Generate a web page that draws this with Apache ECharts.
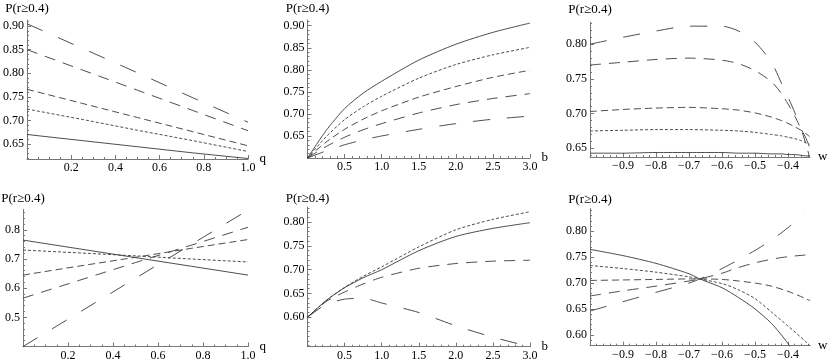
<!DOCTYPE html>
<html><head><meta charset="utf-8">
<script src="https://cdn.jsdelivr.net/npm/echarts@6/dist/echarts.min.js"></script>
<style>html,body{margin:0;padding:0;background:#fff}#c{width:830px;height:363px}</style>
</head><body><div id="c"></div>
<script>
// ---------------- DATA ----------------
const yTitle = 'P(r≥0.4)';

// Panel 1 (top-left): x = q
const p1X  = [0, 0.25, 0.5, 0.75, 1.0];
const p1S1 = [0.670, 0.657, 0.644, 0.631, 0.619];
const p1S2 = [0.724, 0.702, 0.679, 0.657, 0.634];
const p1S3 = [0.766, 0.736, 0.706, 0.676, 0.646];
const p1S4 = [0.850, 0.807, 0.764, 0.721, 0.678];
const p1S5 = [0.905, 0.853, 0.801, 0.748, 0.696];
const p1XTicks = [0.2, 0.4, 0.6, 0.8, 1.0];
const p1YTicks = [0.65, 0.70, 0.75, 0.80, 0.85, 0.90];

// Panel 2 (top-middle): x = b
const p2X  = [0, 0.25, 0.5, 0.75, 1.0, 1.5, 2.0, 2.5, 3.0];
const p2S1 = [0.600, 0.662, 0.712, 0.747, 0.774, 0.822, 0.858, 0.885, 0.906];
const p2S2 = [0.600, 0.648, 0.687, 0.716, 0.740, 0.781, 0.812, 0.834, 0.851];
const p2S3 = [0.600, 0.636, 0.665, 0.688, 0.707, 0.738, 0.762, 0.783, 0.799];
const p2S4 = [0.600, 0.626, 0.647, 0.664, 0.678, 0.702, 0.721, 0.735, 0.746];
const p2S5 = [0.600, 0.616, 0.630, 0.641, 0.650, 0.665, 0.678, 0.688, 0.695];
const p2XTicks = [0.5, 1.0, 1.5, 2.0, 2.5, 3.0];
const p2YTicks = [0.65, 0.70, 0.75, 0.80, 0.85, 0.90];

// Panel 3 (top-right): x = w
const p3X  = [-1, -0.9, -0.8, -0.7, -0.6, -0.55, -0.5, -0.45, -0.42, -0.4, -0.38, -0.36, -0.345, -0.335];
const p3S1 = [0.643, 0.643, 0.644, 0.644, 0.644, 0.643, 0.643, 0.642, 0.642, 0.641, 0.641, 0.640, 0.639, 0.639];
const p3S2 = [0.675, 0.676, 0.677, 0.677, 0.676, 0.675, 0.673, 0.670, 0.668, 0.666, 0.664, 0.661, 0.658, 0.656];
const p3S3 = [0.703, 0.706, 0.708, 0.709, 0.707, 0.705, 0.701, 0.695, 0.690, 0.686, 0.681, 0.676, 0.671, 0.667];
const p3S4 = [0.770, 0.774, 0.778, 0.780, 0.777, 0.772, 0.762, 0.746, 0.729, 0.714, 0.697, 0.677, 0.655, 0.638];
const p3S5 = [0.800, 0.810, 0.819, 0.826, 0.826, 0.819, 0.803, 0.774, 0.744, 0.724, 0.702, 0.678, 0.664, 0.652];
const p3XTicks = [-0.9, -0.8, -0.7, -0.6, -0.5, -0.4];
const p3YTicks = [0.65, 0.70, 0.75, 0.80];

// Panel 4 (bottom-left): x = q
const p4X  = [0, 0.25, 0.5, 0.75, 1.0];
const p4S1 = [0.765, 0.735, 0.705, 0.675, 0.645];
const p4S2 = [0.731, 0.721, 0.711, 0.700, 0.690];
const p4S3 = [0.645, 0.676, 0.706, 0.737, 0.767];
const p4S4 = [0.566, 0.627, 0.688, 0.748, 0.809];
const p4S5 = [0.400, 0.517, 0.634, 0.751, 0.868];
const p4XTicks = [0.2, 0.4, 0.6, 0.8, 1.0];
const p4YTicks = [0.5, 0.6, 0.7, 0.8];

// Panel 5 (bottom-middle): x = b
const p5X  = [0, 0.25, 0.5, 0.75, 1.0, 1.5, 2.0, 2.5, 3.0];
const p5S1 = [0.600, 0.635, 0.662, 0.683, 0.700, 0.740, 0.770, 0.787, 0.799];
const p5S2 = [0.600, 0.635, 0.663, 0.686, 0.706, 0.748, 0.784, 0.806, 0.822];
const p5S4 = [0.600, 0.633, 0.653, 0.670, 0.684, 0.703, 0.713, 0.718, 0.720];
const p5S5 = [0.600, 0.627, 0.638, 0.640, 0.630, 0.610, 0.582, 0.558, 0.538];
const p5XTicks = [0.5, 1.0, 1.5, 2.0, 2.5, 3.0];
const p5YTicks = [0.60, 0.65, 0.70, 0.75, 0.80];

// Panel 6 (bottom-right): x = w
const p6X  = [-1, -0.9, -0.8, -0.7, -0.667, -0.6, -0.55, -0.5, -0.45, -0.4, -0.35, -0.333];
const p6S1 = [0.765, 0.753, 0.738, 0.718, 0.708, 0.691, 0.672, 0.650, 0.622, 0.583, 0.530, 0.510];
const p6S2 = [0.734, 0.728, 0.721, 0.712, 0.708, 0.699, 0.687, 0.670, 0.644, 0.617, 0.589, 0.578];
const p6S3 = [0.705, 0.706, 0.707, 0.708, 0.708, 0.707, 0.704, 0.700, 0.694, 0.684, 0.671, 0.666];
const p6S4 = [0.675, 0.685, 0.694, 0.704, 0.708, 0.719, 0.730, 0.739, 0.746, 0.751, 0.754, 0.755];
const p6S5 = [0.646, 0.664, 0.682, 0.700, 0.708, 0.728, 0.745, 0.763, 0.783, 0.807, 0.834, null];
const p6XTicks = [-0.9, -0.8, -0.7, -0.6, -0.5, -0.4];
const p6YTicks = [0.60, 0.65, 0.70, 0.75, 0.80];

// ---------------- STYLE / LAYOUT ----------------
const FONT = 'Liberation Serif';
const AX = '#777';
const LINE = '#3a3a3a';
const dashes = { S1: 'solid', S2: [3, 2], S3: [7, 4], S4: [11, 8], S5: [17, 17] };

function rng(a, b, step) {
  const out = [];
  const n = Math.round((b - a) / step);
  for (let i = 0; i <= n; i++) out.push(+(a + i * step).toFixed(4));
  return out;
}
const fmt = d => v => v.toFixed(d).replace('-', '\u2212');

const panels = [
  { rect: [23, 20, 225, 139], x: [0, 1], y: [0.618, 0.913], xt: p1XTicks, xm: rng(0, 1, 0.05), yt: p1YTicks, ym: rng(0.62, 0.91, 0.01),
    xd: 1, yd: 2, name: 'q', nameGapX: 6, nameGapY: 5, smooth: false,
    X: p1X, S: { S1: p1S1, S2: p1S2, S3: p1S3, S4: p1S4, S5: p1S5 } },
  { rect: [307.5, 20, 222.5, 138], x: [0, 3], y: [0.6, 0.913], xt: p2XTicks, xm: rng(0, 3, 0.1), yt: p2YTicks, ym: rng(0.60, 0.91, 0.01),
    xd: 1, yd: 2, name: 'b', nameGapX: 11, nameGapY: 5, smooth: true,
    X: p2X, S: { S1: p2S1, S2: p2S2, S3: p2S3, S4: p2S4, S5: p2S5 } },
  { rect: [590, 22, 220, 135], x: [-1, -1 / 3], y: [0.6375, 0.832], xt: p3XTicks, xm: rng(-1, -0.34, 0.02), yt: p3YTicks, ym: rng(0.64, 0.83, 0.01),
    xd: 1, yd: 2, name: 'w', nameGapX: 8, nameGapY: 6, smooth: true,
    X: p3X, S: { S1: p3S1, S2: p3S2, S3: p3S3, S4: p3S4, S5: p3S5 } },
  { rect: [23, 209.5, 225, 137], x: [0, 1], y: [0.4, 0.87], xt: p4XTicks, xm: rng(0, 1, 0.05), yt: p4YTicks, ym: rng(0.4, 0.86, 0.02),
    xd: 1, yd: 1, name: 'q', nameGapX: 6, nameGapY: 4, smooth: false,
    X: p4X, S: { S1: p4S1, S2: p4S2, S3: p4S3, S4: p4S4, S5: p4S5 } },
  { rect: [307.5, 207, 222.5, 139.7], x: [0, 3], y: [0.538, 0.832], xt: p5XTicks, xm: rng(0, 3, 0.1), yt: p5YTicks, ym: rng(0.54, 0.83, 0.01),
    xd: 1, yd: 2, name: 'b', nameGapX: 11, nameGapY: 2, smooth: true,
    X: p5X, S: { S1: p5S1, S2: p5S2, S4: p5S4, S5: p5S5 } },
  { rect: [590, 208.5, 220, 137.2], x: [-1, -1 / 3], y: [0.579, 0.844], xt: p6XTicks, xm: rng(-1, -0.34, 0.02), yt: p6YTicks, ym: rng(0.58, 0.84, 0.01),
    xd: 1, yd: 2, name: 'w', nameGapX: 8, nameGapY: 2, smooth: true,
    X: p6X, S: { S1: p6S1, S2: p6S2, S3: p6S3, S4: p6S4, S5: p6S5 } }
];

const grid = [], xAxis = [], yAxis = [], series = [];
const textStyle = { color: '#000', fontFamily: FONT, fontSize: 12 };

panels.forEach((p, gi) => {
  grid.push({ left: p.rect[0], top: p.rect[1], width: p.rect[2], height: p.rect[3], containLabel: false });
  const xi = xAxis.length, yi = yAxis.length;
  xAxis.push({
    type: 'value', gridIndex: gi, position: 'bottom', min: p.x[0], max: p.x[1],
    axisLine: { show: true, onZero: false, lineStyle: { color: AX, width: 1 } },
    axisTick: { show: true, inside: true, length: 4, customValues: p.xt, lineStyle: { color: AX } },
    axisLabel: { show: true, customValues: p.xt, formatter: fmt(p.xd), margin: 3, ...textStyle },
    splitLine: { show: false },
    name: p.name, nameLocation: 'end', nameGap: p.nameGapX,
    nameTextStyle: { color: '#000', fontFamily: FONT, fontSize: 13 }
  });
  xAxis.push({
    type: 'value', gridIndex: gi, position: 'bottom', offset: 0, min: p.x[0], max: p.x[1],
    axisLine: { show: false, onZero: false },
    axisTick: { show: true, inside: true, length: 2, customValues: p.xm, lineStyle: { color: AX } },
    axisLabel: { show: false }, splitLine: { show: false }
  });
  yAxis.push({
    type: 'value', gridIndex: gi, position: 'left', min: p.y[0], max: p.y[1],
    axisLine: { show: true, onZero: false, lineStyle: { color: AX, width: 1 } },
    axisTick: { show: true, inside: true, length: 4, customValues: p.yt, lineStyle: { color: AX } },
    axisLabel: { show: true, customValues: p.yt, formatter: fmt(p.yd), margin: 3, ...textStyle },
    splitLine: { show: false },
    name: yTitle, nameLocation: 'end', nameGap: p.nameGapY,
    nameTextStyle: { color: '#000', fontFamily: FONT, fontSize: 13 }
  });
  yAxis.push({
    type: 'value', gridIndex: gi, position: 'left', offset: 0, min: p.y[0], max: p.y[1],
    axisLine: { show: false, onZero: false },
    axisTick: { show: true, inside: true, length: 2, customValues: p.ym, lineStyle: { color: AX } },
    axisLabel: { show: false }, splitLine: { show: false }
  });
  Object.keys(p.S).forEach(k => {
    series.push({
      type: 'line', xAxisIndex: xi, yAxisIndex: yi,
      data: p.X.map((x, i) => [x, p.S[k][i]]),
      showSymbol: false, symbol: 'none', silent: true, clip: true,
      smooth: p.smooth ? 0.25 : false,
      lineStyle: { color: LINE, width: 0.9, type: dashes[k] },
      z: 3
    });
  });
});

const chart = echarts.init(document.getElementById('c'), null, { renderer: 'canvas' });
chart.setOption({ animation: false, backgroundColor: '#fff', grid, xAxis, yAxis, series });
</script>
</body></html>
